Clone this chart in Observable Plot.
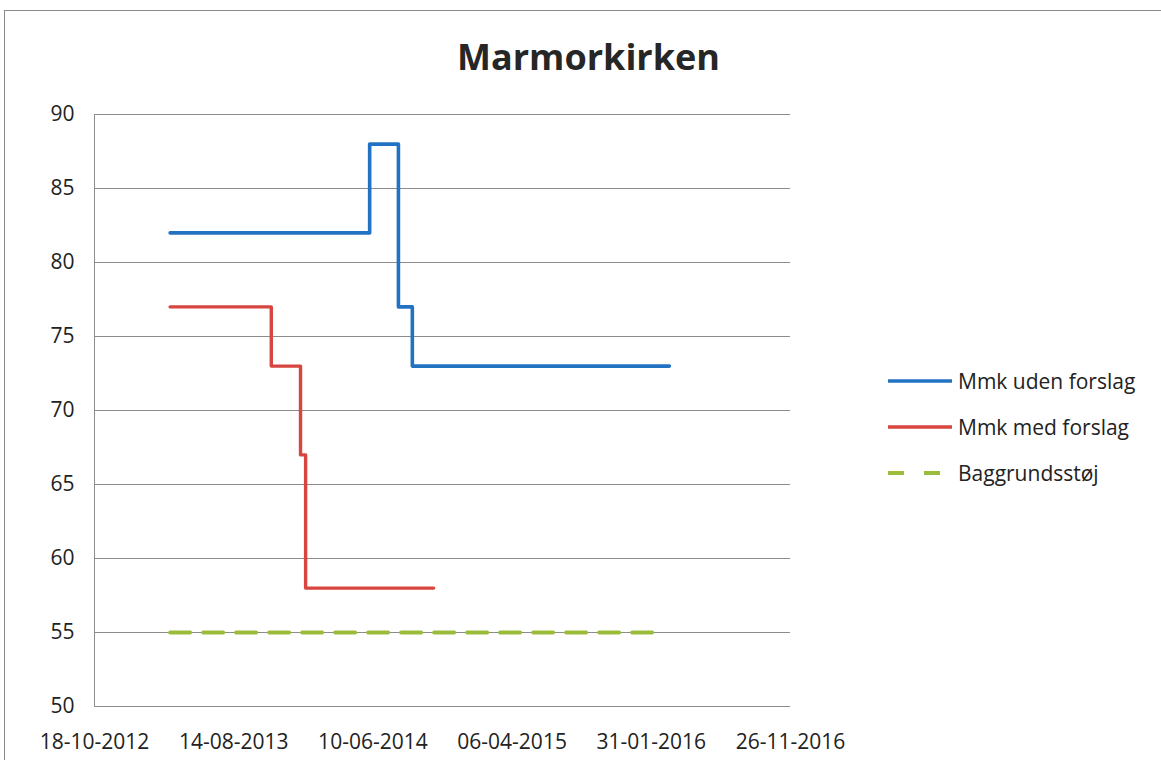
<!DOCTYPE html>
<html>
<head>
<meta charset="utf-8">
<script src="https://cdn.jsdelivr.net/npm/d3@7"></script>
<script src="https://cdn.jsdelivr.net/npm/@observablehq/plot@0.6"></script>
<style>
  html, body { margin: 0; padding: 0; background: #fff; }
  #wrap { position: relative; width: 1161px; height: 760px; overflow: hidden; font-family: "Open Sans", sans-serif; }
  #frame { position: absolute; left: 4px; top: 10px; width: 1160px; height: 800px; border: 1px solid #8a8a8a; box-sizing: border-box; }
  #title { position: absolute; left: 0; width: 1177px; top: 39px; text-align: center; font-size: 36px; font-weight: bold; color: #262626; line-height: 1; }
  #chart { position: absolute; left: 0; top: 0; }
  #legend { position: absolute; left: 886px; top: 358px; font-size: 21px; color: #222; }
  .item { display: flex; align-items: center; height: 46px; }
  .item svg { margin-right: 4px; }
</style>
</head>
<body>
<div id="wrap">
  <div id="frame"></div>
  <div id="chart"></div>
  <div id="title">Marmorkirken</div>
  <div id="legend"></div>
</div>
<script>
// Series (step-after: value holds from its date to the next date)
const udenDates = ["2013-03-30", "2014-06-03", "2014-08-04", "2014-09-03", "2016-03-10"];
const udenValues = [82, 88, 77, 73, 73];
const medDates = ["2013-03-30", "2013-11-03", "2014-01-05", "2014-01-16", "2014-10-19"];
const medValues = [77, 73, 67, 58, 58];
const bgDates = ["2013-03-30", "2016-02-05"];
const bgValues = [55, 55];

const seriesNames = ["Mmk uden forslag", "Mmk med forslag", "Baggrundsstøj"];
const seriesColors = ["#2272c3", "#d8453f", "#9bbb3b"];

const xTickLabels = ["18-10-2012", "14-08-2013", "10-06-2014", "06-04-2015", "31-01-2016", "26-11-2016"];
const yTicks = [50, 55, 60, 65, 70, 75, 80, 85, 90];

const parseDMY = d3.utcParse("%d-%m-%Y");
const parseISO = d3.utcParse("%Y-%m-%d");
const xTicks = xTickLabels.map(parseDMY);

const mk = (dates, vals, name) => dates.map((d, i) => ({date: parseISO(d), value: vals[i], series: name}));
const uden = mk(udenDates, udenValues, seriesNames[0]);
const med = mk(medDates, medValues, seriesNames[1]);
const bg = mk(bgDates, bgValues, seriesNames[2]);

const W = 880, H = 760;
const chart = Plot.plot({
  width: W,
  height: H,
  marginLeft: 94,
  marginRight: W - 790,
  marginTop: 114,
  marginBottom: H - 706,
  style: {fontFamily: "Open Sans, sans-serif", fontSize: "21px", color: "#222", background: "transparent"},
  x: {type: "utc", domain: [xTicks[0], xTicks[xTicks.length - 1]], label: null},
  y: {domain: [50, 90], label: null},
  marks: [
    Plot.ruleY(yTicks, {stroke: "#8c8c8c", strokeWidth: 1}),
    Plot.ruleX([xTicks[0]], {stroke: "#8c8c8c", strokeWidth: 1}),
    Plot.axisX({ticks: xTicks, tickFormat: d3.utcFormat("%d-%m-%Y"), tickSize: 0, tickPadding: 28, label: null, fontSize: 21}),
    Plot.axisY({ticks: yTicks, tickSize: 0, tickPadding: 20, label: null, fontSize: 21}),
    Plot.line(bg, {x: "date", y: "value", stroke: seriesColors[2], strokeWidth: 4, strokeDasharray: "20,13", strokeLinecap: "round"}),
    Plot.line(med, {x: "date", y: "value", curve: "step-after", stroke: seriesColors[1], strokeWidth: 3.4}),
    Plot.line(uden, {x: "date", y: "value", curve: "step-after", stroke: seriesColors[0], strokeWidth: 3.6})
  ]
});
document.getElementById("chart").appendChild(chart);

// Legend
const legend = document.getElementById("legend");
seriesNames.forEach((name, i) => {
  const row = document.createElement("div");
  row.className = "item";
  const dash = i === 2 ? 'stroke-dasharray="16,20" stroke-width="4"' : 'stroke-width="3.6"';
  row.innerHTML = `<svg width="68" height="10"><line x1="2" y1="5" x2="66" y2="5" stroke="${seriesColors[i]}" ${dash}/></svg><span>${name}</span>`;
  legend.appendChild(row);
});
</script>
</body>
</html>
